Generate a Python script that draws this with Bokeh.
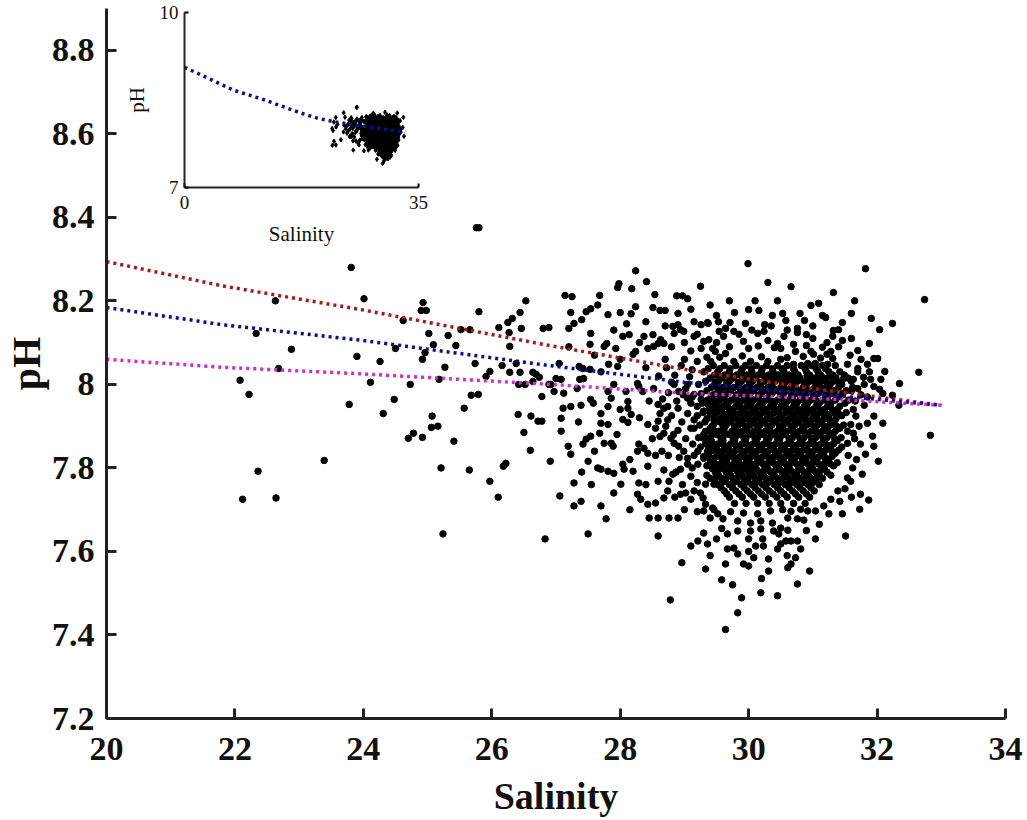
from bokeh.plotting import figure
from bokeh.models import Range1d, FixedTicker, CustomJSTickFormatter
from bokeh.embed import file_html
from bokeh.resources import INLINE

# ---------------- data (salinity, pH) ----------------
pts_left = [
    (25.76, 8.375), (25.80, 8.375), (23.81, 8.28), (22.63, 8.20), (24.01, 8.205),
    (24.93, 8.196), (24.90, 8.177), (24.98, 8.177), (25.80, 8.174), (26.53, 8.20),
    (26.44, 8.172), (26.25, 8.148), (26.32, 8.158), (26.11, 8.136), (26.27, 8.124),
    (26.46, 8.134), (26.80, 8.134), (26.89, 8.136), (24.62, 8.153), (25.52, 8.131),
    (25.66, 8.131), (22.33, 8.122), (22.88, 8.084), (23.90, 8.067), (24.26, 8.055),
    (25.02, 8.122), (25.09, 8.095), (24.92, 8.06), (25.32, 8.117), (25.44, 8.093),
    (24.50, 8.086), (24.96, 8.076), (25.74, 8.05), (25.27, 8.041), (26.28, 8.091),
    (26.16, 8.045), (26.38, 8.05), (26.28, 8.029), (26.44, 8.029), (26.64, 8.029),
    (26.69, 8.024), (26.74, 8.017), (25.97, 8.031), (25.91, 8.019), (22.68, 8.038),
    (22.08, 8.01), (22.22, 7.976), (24.11, 8.005), (24.73, 8.0), (25.18, 8.012),
    (26.42, 8.0), (26.52, 8.0), (26.64, 8.007), (26.89, 8.0), (26.78, 7.971),
    (25.68, 7.974), (25.79, 7.976), (24.48, 7.964), (23.78, 7.952), (24.31, 7.93),
    (25.57, 7.943), (26.41, 7.928), (26.61, 7.924), (26.72, 7.912), (26.78, 7.912),
    (25.07, 7.924), (25.06, 7.897), (25.16, 7.9), (24.78, 7.883), (24.70, 7.871),
    (24.92, 7.873), (25.41, 7.864), (26.50, 7.885), (26.60, 7.842), (26.91, 7.816),
    (23.39, 7.818), (22.36, 7.792), (25.21, 7.80), (25.65, 7.795), (26.22, 7.811),
    (26.18, 7.804), (25.97, 7.768), (26.10, 7.73), (22.12, 7.725), (22.64, 7.728),
    (25.24, 7.642), (26.83, 7.63),
]

pts_mid = [
    (28.24, 8.272), (27.98, 8.241), (27.96, 8.232), (28.18, 8.229), (28.41, 8.246),
    (28.54, 8.215), (28.88, 8.212), (28.97, 8.212), (29.05, 8.205), (27.68, 8.213),
    (27.65, 8.19), (27.14, 8.213), (27.25, 8.21), (27.54, 8.181), (27.47, 8.174),
    (27.40, 8.155), (27.23, 8.172), (27.81, 8.167), (28.0, 8.172), (28.17, 8.169),
    (28.24, 8.186), (28.51, 8.184), (28.62, 8.177), (28.70, 8.177), (27.28, 8.146),
    (27.20, 8.134), (27.54, 8.122), (27.79, 8.098), (27.75, 8.091), (27.53, 8.096),
    (28.04, 8.115), (28.14, 8.119), (28.37, 8.115), (28.51, 8.119), (28.63, 8.107),
    (28.68, 8.098), (28.59, 8.098), (28.82, 8.139), (28.90, 8.143), (28.94, 8.131),
    (28.99, 8.127), (28.84, 8.122), (29.15, 8.150), (29.26, 8.143), (29.37, 8.146),
    (29.54, 8.127), (29.15, 8.115), (29.30, 8.103), (29.38, 8.107), (29.26, 8.086),
    (29.44, 8.086), (28.43, 8.086), (28.52, 8.091), (28.24, 8.079), (28.20, 8.072),
    (27.93, 8.086), (27.82, 8.048), (27.96, 8.043), (27.36, 8.043), (27.42, 8.038),
    (27.53, 8.036), (27.05, 8.05), (27.0, 8.014), (27.08, 8.012), (26.92, 8.0),
    (26.97, 7.983), (27.12, 7.979), (27.37, 8.012), (27.43, 8.014), (27.33, 7.99),
    (27.54, 7.964), (27.58, 7.955), (27.81, 7.983), (27.86, 7.967), (27.81, 7.947),
    (28.09, 7.983), (28.12, 7.959), (28.12, 7.943), (28.17, 7.928), (28.27, 8.002),
    (28.29, 7.995), (28.35, 7.983), (28.52, 7.99), (28.59, 7.952), (28.68, 7.943),
    (28.74, 7.947), (28.84, 8.0), (28.91, 7.983), (29.02, 7.99), (29.05, 7.967),
    (28.90, 7.943), (29.15, 7.976), (29.26, 7.964), (29.37, 7.952), (29.30, 7.936),
    (29.46, 7.943), (29.54, 7.936), (27.23, 7.947), (27.39, 7.95), (27.11, 7.943),
    (27.08, 7.919), (27.08, 7.888), (27.70, 7.907), (27.81, 7.904), (27.68, 7.883),
    (28.04, 7.916), (28.12, 7.909), (27.54, 7.876), (27.47, 7.869), (27.42, 7.857),
    (27.75, 7.859), (27.86, 7.859), (27.89, 7.852), (28.29, 7.857), (28.27, 7.84),
    (28.37, 7.847), (28.43, 7.835), (28.43, 7.904), (28.55, 7.895), (28.59, 7.912),
    (28.71, 7.9), (28.68, 7.883), (28.79, 7.871), (28.84, 7.859), (28.91, 7.852),
    (28.99, 7.84), (29.05, 7.823), (29.13, 7.857), (29.21, 7.84), (29.30, 7.871),
    (29.38, 7.847), (29.46, 7.888), (29.57, 7.871), (27.19, 7.852), (27.23, 7.833),
    (27.50, 7.816), (27.65, 7.80), (27.70, 7.797), (27.81, 7.792), (27.90, 7.787),
    (28.04, 7.809), (28.06, 7.797), (28.01, 7.761), (28.20, 7.792), (28.29, 7.764),
    (28.43, 7.804), (28.59, 7.768), (28.76, 7.768), (28.82, 7.785), (28.94, 7.797),
    (29.05, 7.809), (29.21, 7.809), (27.28, 7.764), (27.39, 7.72), (27.28, 7.709),
    (27.70, 7.709), (27.78, 7.678), (27.06, 7.733), (27.50, 7.642), (28.27, 7.737),
    (28.32, 7.725), (28.43, 7.713), (28.55, 7.716), (28.68, 7.728), (28.74, 7.745),
    (28.59, 7.68), (28.76, 7.68), (28.90, 7.68), (28.59, 7.637), (28.94, 7.737),
    (29.02, 7.74), (29.15, 7.745), (29.29, 7.728), (29.33, 7.713), (29.44, 7.704),
    (29.52, 7.69), (29.10, 7.613), (29.21, 7.625), (29.36, 7.618), (29.30, 7.644),
    (29.33, 7.761), (29.46, 7.761), (29.30, 7.823), (29.46, 7.823), (28.78, 7.484),
    (28.96, 7.573), (28.70, 8.06), (29.0, 8.06), (29.2, 8.055), (28.6, 8.02),
    (28.85, 8.022), (29.08, 8.018), (28.75, 7.98), (28.98, 7.975), (28.62, 7.93),
    (28.8, 7.925), (29.05, 7.93), (28.9, 7.89), (29.1, 7.895), (28.65, 7.84),
    (29.12, 7.80),
]

pts_right = [
    (29.99, 8.289), (31.82, 8.277), (30.30, 8.244), (30.66, 8.234), (31.32, 8.220),
    (31.65, 8.20), (32.74, 8.203), (30.97, 8.189), (31.09, 8.194), (31.15, 8.165),
    (29.78, 8.172), (30.0, 8.179), (30.16, 8.177), (29.50, 8.165), (29.36, 8.148),
    (29.53, 8.15), (29.71, 8.148), (29.95, 8.146), (30.25, 8.143), (30.37, 8.165),
    (30.53, 8.170), (30.58, 8.153), (30.87, 8.153), (31.46, 8.148), (31.91, 8.158),
    (32.24, 8.146), (29.64, 8.134), (29.77, 8.127), (29.61, 8.115), (29.92, 8.103),
    (30.14, 8.122), (30.24, 8.127), (30.55, 8.115), (30.76, 8.134), (30.76, 8.124),
    (30.90, 8.119), (31.32, 8.129), (31.40, 8.131), (31.31, 8.115), (32.04, 8.131),
    (31.46, 8.105), (31.88, 8.098), (29.48, 8.079), (29.64, 8.074), (30.0, 8.086),
    (30.30, 8.105), (30.45, 8.098), (30.50, 8.086), (30.70, 8.096), (30.73, 8.079),
    (30.97, 8.079), (31.01, 8.072), (31.22, 8.072), (31.28, 8.079), (31.31, 8.062),
    (31.70, 8.081), (31.95, 8.062), (32.01, 8.062), (31.85, 8.048), (29.41, 8.055),
    (29.77, 8.055), (30.03, 8.055), (30.30, 8.055), (30.50, 8.06), (30.70, 8.048),
    (30.92, 8.05), (31.04, 8.05), (31.23, 8.048), (31.54, 8.048), (31.70, 8.038),
    (32.12, 8.031), (32.65, 8.029), (32.06, 8.012), (32.35, 8.002), (31.95, 7.995),
    (31.48, 8.014), (31.63, 8.012), (31.79, 8.017), (31.70, 7.99), (32.09, 7.907),
    (31.93, 7.876), (32.83, 7.878), (31.95, 7.852), (31.80, 8.0), (31.90, 8.012),
    (32.04, 7.988), (32.09, 7.978), (32.24, 7.974), (32.34, 7.95), (31.85, 7.907),
    (31.95, 7.924), (31.63, 7.940), (31.67, 7.924), (31.59, 7.904), (31.54, 7.888),
    (31.63, 7.883), (31.74, 7.857), (31.54, 7.859), (29.55, 8.065), (29.9, 8.068),
    (30.2, 8.066), (30.6, 8.064), (30.85, 8.067), (31.12, 8.063), (29.7, 8.09),
    (30.15, 8.092), (30.4, 8.088), (30.9, 8.093), (31.15, 8.089),
]

pts_low = [
    (32.02, 7.816), (31.77, 7.785), (31.74, 7.737), (31.87, 7.723), (31.73, 7.701),
    (31.46, 7.690), (31.51, 7.637), (31.04, 7.630), (30.95, 7.553), (30.76, 7.522),
    (30.45, 7.494), (30.19, 7.501), (29.89, 7.489), (29.83, 7.453), (29.64, 7.413),
    (29.58, 7.532), (29.33, 7.558), (30.31, 7.553), (30.31, 7.582), (30.61, 7.561),
    (30.66, 7.570), (30.73, 7.585), (30.81, 7.606), (29.92, 7.570), (30.0, 7.565),
    (29.64, 7.570), (30.08, 7.585), (29.67, 7.606), (29.77, 7.608), (29.83, 7.594),
    (30.11, 7.613), (30.23, 7.613), (30.45, 7.606), (30.50, 7.618), (30.58, 7.625),
    (30.66, 7.625), (30.76, 7.625), (29.67, 7.642), (29.83, 7.649), (30.03, 7.649),
    (30.19, 7.654), (30.39, 7.649), (30.50, 7.656), (30.61, 7.651), (30.0, 7.630),
    (30.47, 7.642), (29.60, 7.678), (29.83, 7.673), (30.03, 7.668), (30.19, 7.673),
    (30.37, 7.668), (30.61, 7.68), (30.76, 7.678), (30.86, 7.675), (31.82, 7.833),
    (31.54, 7.776), (31.59, 7.768), (31.39, 7.745), (31.28, 7.725), (31.17, 7.709),
    (31.04, 7.697), (30.92, 7.697), (30.81, 7.701), (29.30, 7.697), (29.46, 7.70),
    (29.72, 7.695), (29.92, 7.692), (30.14, 7.69), (30.34, 7.697), (30.53, 7.70),
    (30.66, 7.696),
]

pts_fringe = [
    (28.72, 8.04), (28.95, 8.045), (29.12, 8.035), (28.8, 8.005), (29.05, 8.0),
    (28.66, 7.965), (28.88, 7.96), (29.1, 7.955), (28.74, 7.915), (28.96, 7.91),
    (29.15, 7.915), (28.62, 7.875), (28.83, 7.88), (29.02, 7.87), (28.75, 7.83),
    (28.92, 7.825), (29.15, 7.83), (28.68, 7.795), (28.87, 7.79), (29.1, 7.78),
    (28.97, 7.76), (29.2, 7.765), (28.85, 7.73), (29.1, 7.725), (29.25, 7.74),
    (29.0, 7.7), (29.2, 7.695), (29.4, 7.68), (29.58, 7.655), (29.5, 7.63),
    (30.22, 7.63), (30.9, 7.65), (31.1, 7.665), (31.25, 7.69), (31.6, 7.73),
    (31.5, 7.75), (31.42, 7.72), (31.62, 7.8), (31.68, 7.82), (31.55, 7.83),
    (31.65, 7.87), (31.72, 7.9), (31.8, 7.95), (31.66, 7.96), (31.75, 7.975),
    (31.85, 7.97), (31.6, 7.985), (31.7, 8.03), (31.88, 8.03), (31.58, 8.07),
    (31.75, 8.06), (31.4, 8.09), (31.6, 8.11), (31.22, 8.1), (31.0, 8.11),
    (30.6, 8.13), (30.35, 8.14), (30.05, 8.13), (29.85, 8.12), (29.5, 8.1),
    (29.2, 8.12), (29.0, 8.1), (28.8, 8.09), (29.1, 8.08), (29.35, 8.065),
    (28.9, 8.17), (29.1, 8.18), (29.4, 8.19), (29.7, 8.2), (30.1, 8.2),
    (30.45, 8.2), (30.8, 8.17), (31.0, 8.14), (31.2, 8.16), (31.6, 8.17),
    (29.25, 8.235), (28.7, 8.14), (28.4, 8.15), (28.1, 8.145), (27.9, 8.13),
    (28.3, 8.1), (28.0, 8.06), (28.4, 8.04), (27.7, 8.03), (27.6, 8.07),
    (27.2, 8.09), (27.9, 8.0), (28.45, 7.96), (28.0, 7.94), (27.7, 7.93),
    (27.35, 7.91), (28.3, 7.92), (27.95, 7.88), (28.5, 7.87), (27.6, 7.84),
    (28.15, 7.82), (28.55, 7.83), (27.4, 7.79), (28.4, 7.76), (27.9, 7.74),
    (28.15, 7.7), (28.45, 7.68), (27.55, 7.76), (29.4, 7.59), (30.0, 7.6),
    (30.6, 7.59), (30.2, 7.535), (29.75, 7.52),
]

# dense core: pH level and the salinities seen along it
core_ph = [8.045, 8.0375, 8.03, 8.0225, 8.015, 8.0075, 8.0, 7.9925, 7.985, 7.9775,
           7.97, 7.9625, 7.955, 7.9475, 7.94, 7.9325, 7.925, 7.9175, 7.91, 7.9025,
           7.895, 7.8875, 7.88, 7.8725, 7.865, 7.8575, 7.85, 7.8425, 7.835, 7.8275,
           7.82, 7.8125, 7.805, 7.7975, 7.79, 7.7825, 7.775, 7.7675, 7.76, 7.7525,
           7.745, 7.7375, 7.73, 7.715,
           8.02, 8.005, 7.99, 7.975, 7.96, 7.945, 7.93, 7.915, 7.9, 7.885,
           7.87, 7.855, 7.84, 7.825, 7.81, 7.795, 7.78, 7.765]
core_sal = [
    [29.45, 29.62, 29.8, 29.95, 30.12, 30.28, 30.45, 30.6, 30.82, 30.98, 31.15, 31.35],
    [29.37, 29.55, 29.71, 29.9, 30.04, 30.21, 30.37, 30.52, 30.7, 30.88, 31.05, 31.2],
    [29.3, 29.52, 29.7, 29.88, 30.05, 30.2, 30.38, 30.55, 30.72, 30.9, 31.08, 31.25, 31.42],
    [29.47, 29.63, 29.81, 29.97, 30.15, 30.31, 30.46, 30.63, 30.77, 30.95, 31.12, 31.31, 31.49],
    [29.4, 29.58, 29.76, 29.94, 30.1, 30.3, 30.47, 30.65, 30.8, 31.0, 31.18, 31.36, 31.55],
    [29.33, 29.53, 29.7, 29.89, 30.06, 30.24, 30.41, 30.59, 30.76, 30.95, 31.13, 31.32, 31.6],
    [29.22, 29.48, 29.66, 29.85, 30.02, 30.18, 30.35, 30.55, 30.72, 30.9, 31.1, 31.27, 31.45],
    [29.42, 29.6, 29.77, 29.96, 30.13, 30.3, 30.5, 30.66, 30.85, 31.03, 31.2, 31.4, 31.62],
    [29.35, 29.55, 29.72, 29.92, 30.08, 30.25, 30.42, 30.62, 30.78, 30.95, 31.15, 31.33, 31.52],
    [29.26, 29.5, 29.66, 29.86, 30.02, 30.2, 30.36, 30.55, 30.73, 30.9, 31.08, 31.28, 31.46],
    [29.12, 29.42, 29.6, 29.8, 29.98, 30.15, 30.32, 30.5, 30.68, 30.86, 31.02, 31.22, 31.4],
    [29.36, 29.55, 29.73, 29.92, 30.08, 30.27, 30.45, 30.63, 30.8, 30.97, 31.17, 31.35, 31.56],
    [29.28, 29.5, 29.68, 29.86, 30.04, 30.22, 30.4, 30.58, 30.75, 30.92, 31.1, 31.28, 31.5],
    [29.2, 29.44, 29.6, 29.8, 29.97, 30.15, 30.34, 30.51, 30.7, 30.87, 31.05, 31.23, 31.42],
    [29.38, 29.58, 29.75, 29.93, 30.1, 30.28, 30.46, 30.64, 30.82, 31.0, 31.18, 31.38],
    [29.29, 29.5, 29.7, 29.88, 30.05, 30.22, 30.4, 30.58, 30.76, 30.93, 31.12, 31.31, 31.52],
    [29.2, 29.45, 29.65, 29.82, 30.0, 30.17, 30.35, 30.52, 30.7, 30.88, 31.06, 31.25, 31.45],
    [29.35, 29.55, 29.74, 29.92, 30.1, 30.28, 30.46, 30.63, 30.8, 30.99, 31.17, 31.36],
    [29.32, 29.55, 29.72, 29.9, 30.08, 30.25, 30.43, 30.6, 30.78, 30.96, 31.14, 31.33],
    [29.24, 29.45, 29.65, 29.84, 30.02, 30.18, 30.36, 30.54, 30.72, 30.9, 31.07, 31.27, 31.48],
    [29.15, 29.4, 29.62, 29.8, 29.97, 30.14, 30.32, 30.5, 30.68, 30.85, 31.03, 31.22, 31.42],
    [29.33, 29.53, 29.74, 29.9, 30.08, 30.26, 30.44, 30.6, 30.79, 30.97, 31.15, 31.35],
    [29.3, 29.5, 29.7, 29.87, 30.05, 30.22, 30.4, 30.57, 30.75, 30.92, 31.1, 31.3],
    [29.22, 29.4, 29.6, 29.79, 29.96, 30.14, 30.32, 30.49, 30.68, 30.86, 31.04, 31.22, 31.44],
    [29.42, 29.6, 29.78, 29.95, 30.12, 30.3, 30.48, 30.65, 30.83, 31.0, 31.18, 31.38],
    [29.33, 29.52, 29.72, 29.9, 30.07, 30.24, 30.42, 30.6, 30.78, 30.95, 31.13, 31.32],
    [29.25, 29.5, 29.68, 29.86, 30.03, 30.2, 30.38, 30.55, 30.73, 30.9, 31.08, 31.27, 31.45],
    [29.44, 29.62, 29.8, 29.98, 30.15, 30.32, 30.5, 30.68, 30.85, 31.03, 31.2, 31.4],
    [29.38, 29.58, 29.76, 29.93, 30.1, 30.28, 30.46, 30.63, 30.8, 30.98, 31.16, 31.35],
    [29.3, 29.5, 29.68, 29.87, 30.04, 30.22, 30.4, 30.57, 30.74, 30.92, 31.1, 31.3],
    [29.45, 29.66, 29.84, 30.0, 30.18, 30.36, 30.53, 30.7, 30.88, 31.05, 31.24],
    [29.4, 29.58, 29.78, 29.96, 30.13, 30.31, 30.49, 30.66, 30.83, 31.0, 31.19, 31.38],
    [29.35, 29.55, 29.74, 29.92, 30.08, 30.26, 30.44, 30.6, 30.78, 30.96, 31.14, 31.32],
    [29.44, 29.62, 29.8, 29.97, 30.12, 30.3, 30.48, 30.64, 30.82, 31.0, 31.18],
    [29.48, 29.65, 29.83, 30.0, 30.16, 30.34, 30.52, 30.68, 30.86, 31.04, 31.22],
    [29.35, 29.53, 29.72, 29.9, 30.06, 30.23, 30.4, 30.58, 30.75, 30.93, 31.1, 31.28],
    [29.4, 29.58, 29.76, 29.93, 30.1, 30.27, 30.45, 30.62, 30.8, 30.97, 31.15],
    [29.47, 29.64, 29.82, 29.99, 30.16, 30.34, 30.52, 30.7, 30.87, 31.05],
    [29.52, 29.7, 29.88, 30.05, 30.22, 30.4, 30.57, 30.75, 30.92, 31.1],
    [29.57, 29.75, 29.93, 30.1, 30.27, 30.45, 30.63, 30.8, 30.97],
    [29.62, 29.8, 29.98, 30.15, 30.32, 30.5, 30.68, 30.85, 31.02],
    [29.66, 29.85, 30.03, 30.2, 30.38, 30.55, 30.73, 30.9],
    [29.7, 29.9, 30.08, 30.26, 30.44, 30.6, 30.78, 30.95],
    [29.78, 29.96, 30.14, 30.32, 30.5, 30.7, 30.88],
    [29.54, 29.72, 29.89, 30.06, 30.24, 30.4, 30.57, 30.73, 30.91, 31.08, 31.27],
    [29.48, 29.66, 29.84, 30.01, 30.18, 30.36, 30.52, 30.7, 30.86, 31.04, 31.22, 31.4],
    [29.52, 29.69, 29.87, 30.04, 30.21, 30.39, 30.56, 30.74, 30.9, 31.08, 31.25],
    [29.45, 29.63, 29.81, 29.99, 30.16, 30.33, 30.5, 30.67, 30.84, 31.01, 31.19, 31.37],
    [29.47, 29.65, 29.83, 30.0, 30.18, 30.36, 30.53, 30.7, 30.88, 31.06, 31.24],
    [29.5, 29.68, 29.86, 30.04, 30.21, 30.38, 30.56, 30.73, 30.9, 31.08, 31.28],
    [29.4, 29.6, 29.79, 29.97, 30.14, 30.31, 30.49, 30.67, 30.84, 31.02, 31.2, 31.4],
    [29.46, 29.64, 29.83, 30.01, 30.19, 30.36, 30.54, 30.71, 30.89, 31.07, 31.26],
    [29.43, 29.6, 29.78, 29.95, 30.13, 30.3, 30.48, 30.66, 30.84, 31.0, 31.18, 31.37],
    [29.42, 29.62, 29.81, 29.99, 30.17, 30.35, 30.52, 30.7, 30.88, 31.06, 31.25],
    [29.4, 29.58, 29.76, 29.93, 30.1, 30.28, 30.45, 30.63, 30.8, 30.98, 31.16, 31.34],
    [29.43, 29.61, 29.8, 29.98, 30.16, 30.33, 30.51, 30.69, 30.86, 31.04, 31.22],
    [29.36, 29.53, 29.71, 29.89, 30.06, 30.24, 30.41, 30.59, 30.77, 30.94, 31.12, 31.3],
    [29.4, 29.58, 29.77, 29.95, 30.13, 30.31, 30.48, 30.66, 30.83, 31.01, 31.19],
    [29.48, 29.67, 29.86, 30.04, 30.22, 30.4, 30.57, 30.74, 30.92, 31.09, 31.27],
    [29.53, 29.71, 29.89, 30.06, 30.24, 30.42, 30.59, 30.77, 30.94, 31.12],
    [29.5, 29.68, 29.85, 30.02, 30.2, 30.37, 30.55, 30.72, 30.9, 31.07],
    [29.58, 29.76, 29.95, 30.12, 30.3, 30.48, 30.66, 30.84, 31.0],
]

# fitted curves (main panel)
fit_sal = [20, 21.8, 24, 26.9, 29, 31, 33]
fit_red = [8.294, 8.236, 8.178, 8.093, 8.036, 7.99, 7.95]
fit_blue = [8.184, 8.143, 8.105, 8.045, 8.005, 7.978, 7.95]
fit_magenta = [8.06, 8.041, 8.025, 8.0, 7.979, 7.967, 7.95]

# inset fitted curve
inset_sal = [0, 3.5, 7.3, 12, 17.3, 20, 22.3, 26.9, 33]
inset_ph = [9.06, 8.875, 8.67, 8.5, 8.28, 8.184, 8.13, 8.045, 7.95]

x_ticks = [20, 22, 24, 26, 28, 30, 32, 34]
y_ticks = [7.2, 7.4, 7.6, 7.8, 8.0, 8.2, 8.4, 8.6, 8.8]
inset_x_ticks = [0, 35]
inset_y_ticks = [7, 10]

# ---------------- assemble ----------------
all_pts = pts_left + pts_mid + pts_right + pts_low + pts_fringe
salinity = [s for s, _ in all_pts]
ph = [v for _, v in all_pts]
for level, row in zip(core_ph, core_sal):
    salinity += row
    ph += [level] * len(row)

FONT = "Liberation Serif"

p = figure(width=1027, height=820, x_range=Range1d(20, 34), y_range=Range1d(7.2, 8.9),
           output_backend="svg", toolbar_location=None,
           min_border_left=105, min_border_right=22, min_border_top=8, min_border_bottom=102)
p.grid.visible = False
p.outline_line_color = None
p.background_fill_color = "white"

p.scatter(salinity, ph, size=6.5, color="black", marker="circle")
p.line(fit_sal, fit_red, color="#a81818", line_width=3.5, line_dash="3 4")
p.line(fit_sal, fit_blue, color="#0c0c9a", line_width=3.5, line_dash="3 4")
p.line(fit_sal, fit_magenta, color="#c832c8", line_width=3.5, line_dash="3 4")

p.xaxis.ticker = FixedTicker(ticks=x_ticks)
p.yaxis.ticker = FixedTicker(ticks=y_ticks)
p.yaxis.formatter = CustomJSTickFormatter(
    code="const s = tick.toFixed(1); return s.endsWith('.0') ? s.slice(0, -2) : s;")
p.xaxis.axis_label = "Salinity"
p.yaxis.axis_label = "pH"
for ax in (p.xaxis[0], p.yaxis[0]):
    ax.axis_line_width = 3
    ax.axis_line_color = "#222222"
    ax.major_tick_line_width = 3
    ax.major_tick_line_color = "#222222"
    ax.major_tick_in = 10
    ax.major_tick_out = 0
    ax.minor_tick_in = 0
    ax.minor_tick_out = 0
    ax.major_label_text_font = FONT
    ax.major_label_text_font_style = "bold"
    ax.major_label_text_font_size = "34px"
    ax.major_label_text_color = "#111111"
    ax.axis_label_text_font = FONT
    ax.axis_label_text_font_style = "bold"
    ax.axis_label_text_color = "#111111"
p.xaxis.axis_label_text_font_size = "38px"
p.yaxis.axis_label_text_font_size = "40px"
p.xaxis.major_label_standoff = 19
p.yaxis.major_label_standoff = 12
p.xaxis.axis_label_standoff = 12
p.yaxis.axis_label_standoff = 0

# ---------------- inset ----------------
ins = figure(width=318, height=248, x_range=Range1d(0, 35), y_range=Range1d(7, 10),
             output_backend="svg", toolbar_location=None,
             min_border_left=64, min_border_right=20, min_border_top=12, min_border_bottom=60,
             background_fill_alpha=0, border_fill_alpha=0,
             styles={"position": "absolute", "left": "120px", "top": "0px"})
ins.grid.visible = False
ins.outline_line_color = None
ins.scatter(salinity, ph, size=4.5, color="black", marker="diamond")
ins.line(inset_sal, inset_ph, color="#0c0c9a", line_width=3.5, line_dash="3 4")
ins.xaxis.ticker = FixedTicker(ticks=inset_x_ticks)
ins.yaxis.ticker = FixedTicker(ticks=inset_y_ticks)
ins.xaxis.axis_label = "Salinity"
ins.yaxis.axis_label = "pH"
for ax in (ins.xaxis[0], ins.yaxis[0]):
    ax.axis_line_width = 2
    ax.axis_line_color = "#222222"
    ax.major_tick_line_width = 2
    ax.major_tick_in = 4
    ax.major_tick_out = 0
    ax.minor_tick_in = 0
    ax.minor_tick_out = 0
    ax.major_label_text_font = FONT
    ax.major_label_text_font_size = "19px"
    ax.major_label_text_color = "#111111"
    ax.axis_label_text_font = FONT
    ax.axis_label_text_font_style = "normal"
    ax.axis_label_text_font_size = "21px"
    ax.axis_label_text_color = "#111111"
ins.xaxis.major_label_standoff = 8
ins.yaxis.major_label_standoff = 6
ins.xaxis.axis_label_standoff = 10
ins.yaxis.axis_label_standoff = 8

with open("out.html", "w") as f:
    f.write(file_html([p, ins], INLINE))
